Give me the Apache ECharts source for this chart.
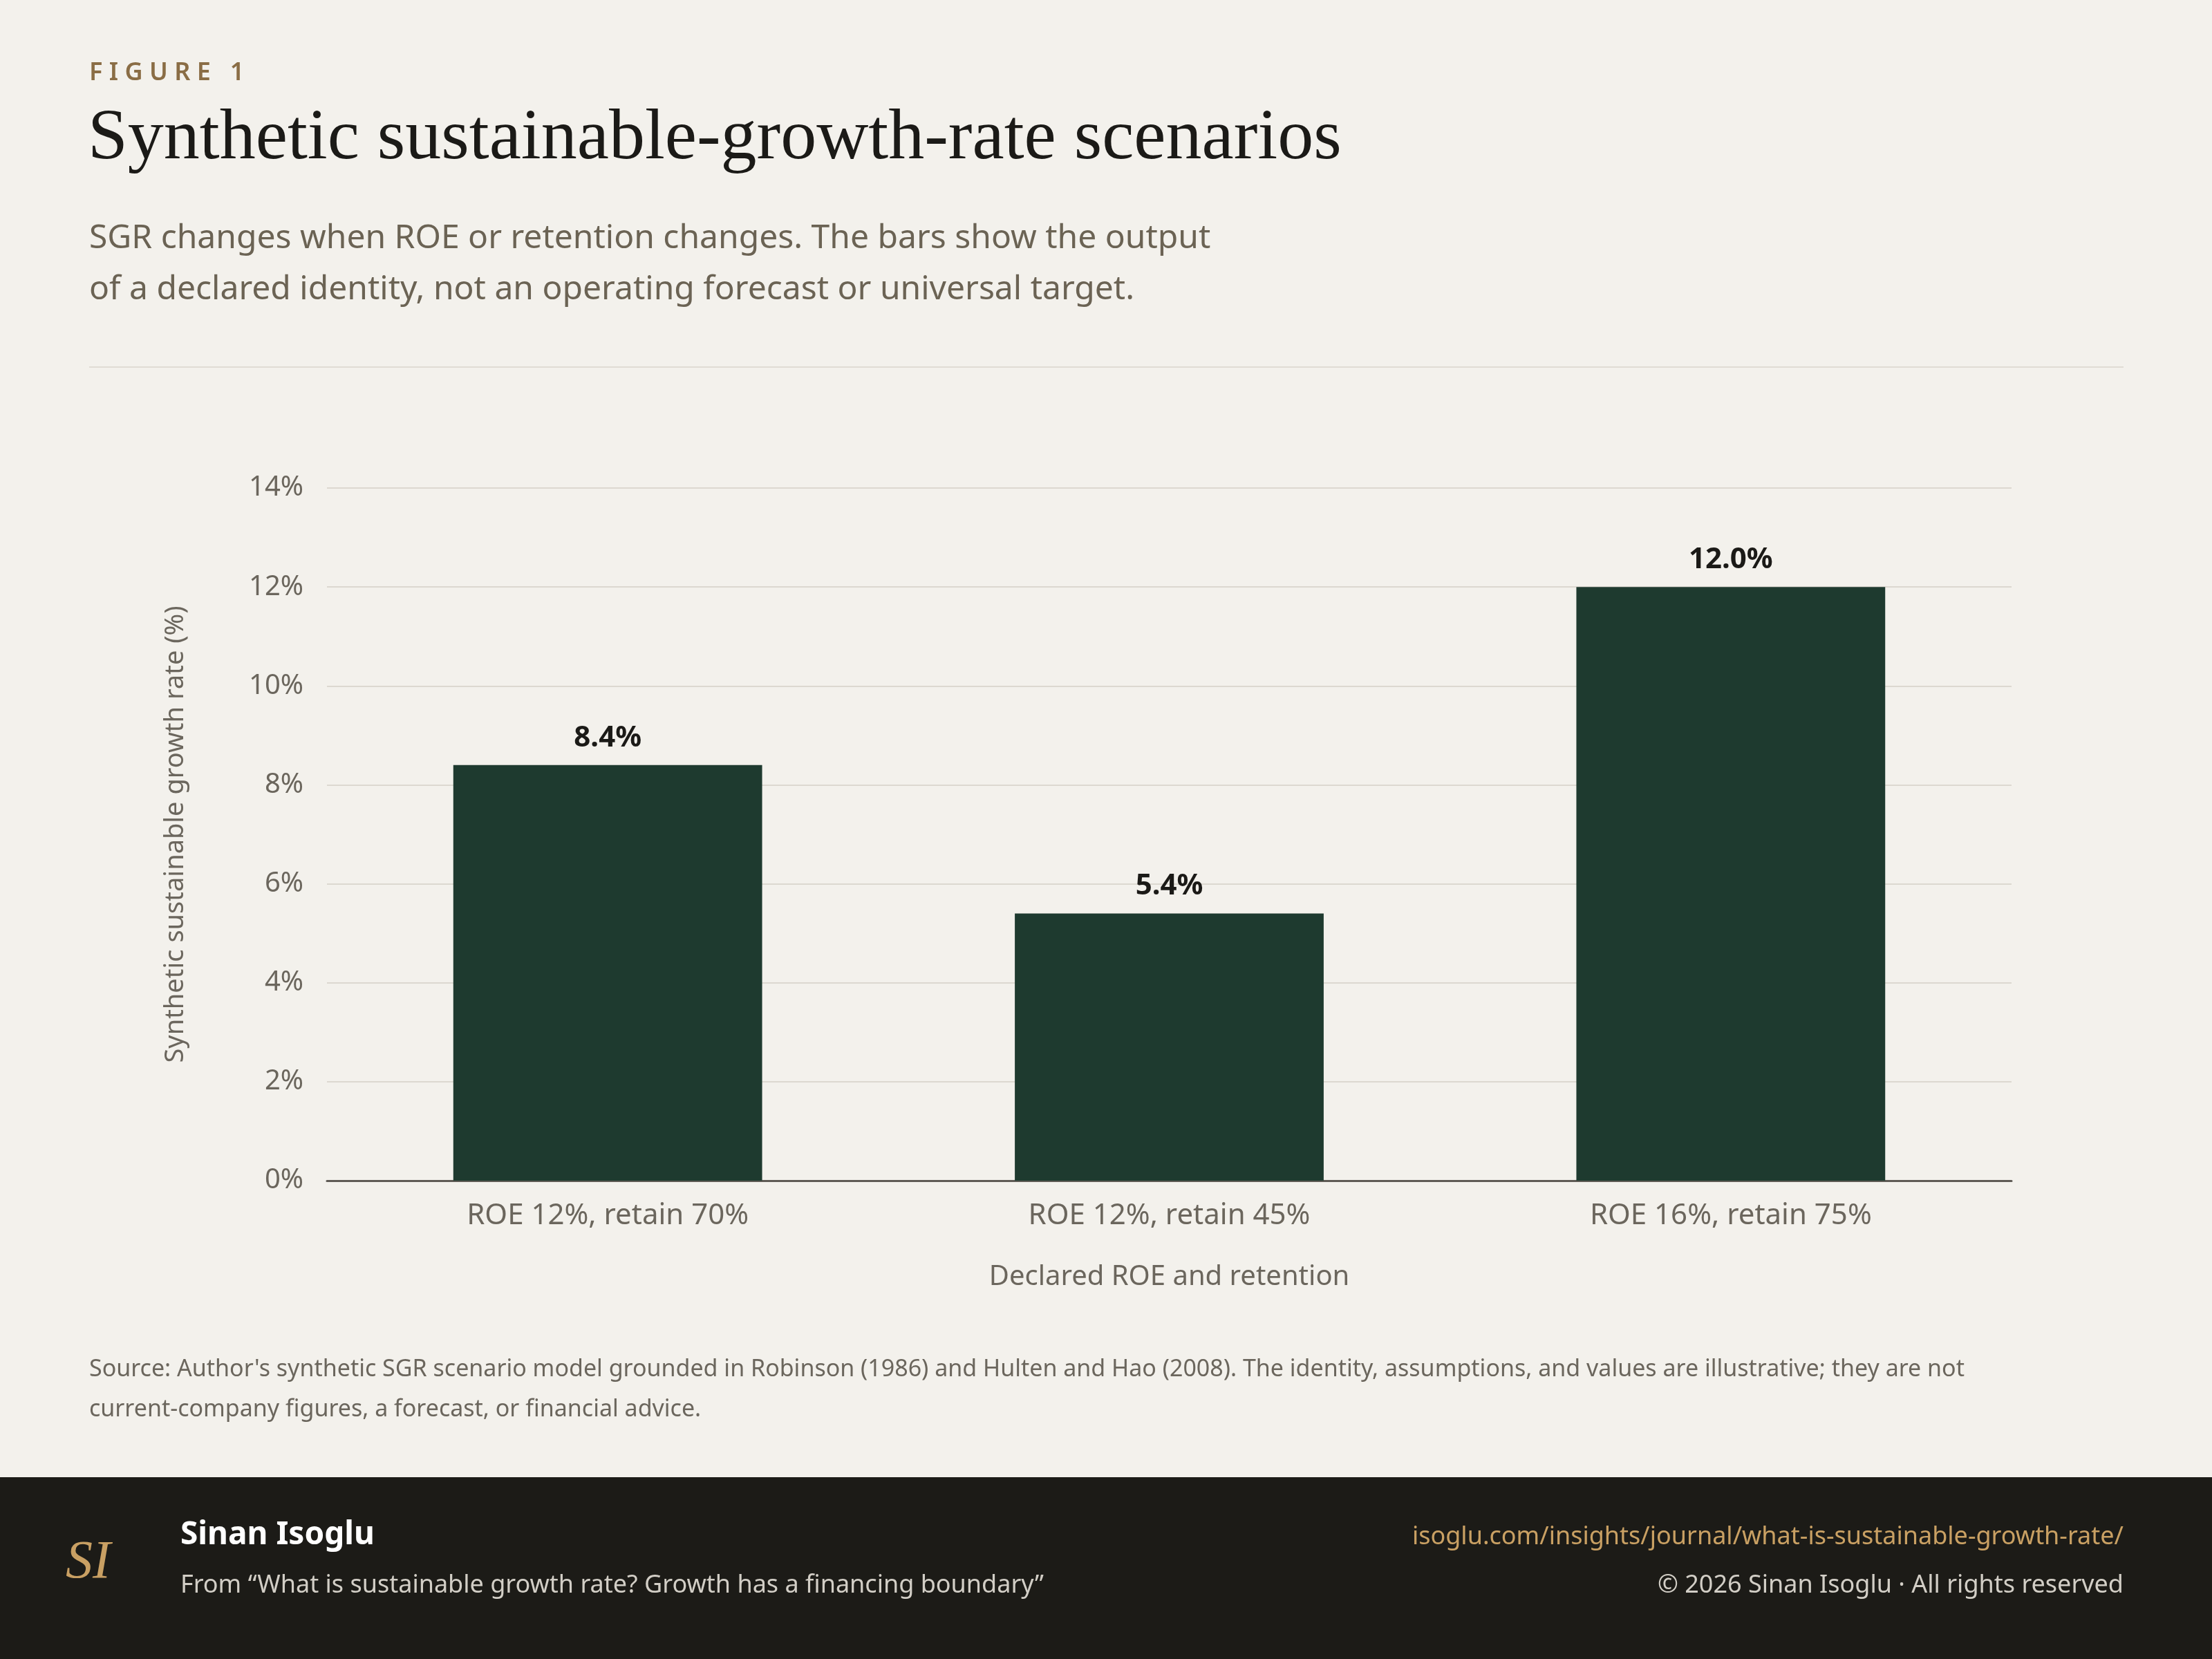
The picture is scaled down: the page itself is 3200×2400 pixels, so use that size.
<!DOCTYPE html>
<html>
<head>
<meta charset="utf-8">
<script src="https://cdn.jsdelivr.net/npm/echarts@6/dist/echarts.min.js"></script>
<style>
  html, body { margin: 0; padding: 0; background: #f3f1ec; }
  #main { width: 3200px; height: 2400px; }
</style>
</head>
<body>
<div id="main"></div>
<script>
var categories = ['ROE 12%, retain 70%', 'ROE 12%, retain 45%', 'ROE 16%, retain 75%'];
var sgrValues = [8.4, 5.4, 12.0];
var yTicks = [0, 2, 4, 6, 8, 10, 12, 14];

var sans = '"Noto Sans", "Open Sans", sans-serif';
var serif = '"Liberation Serif", "DejaVu Serif", serif';

var chart = echarts.init(document.getElementById('main'));
chart.setOption({
  backgroundColor: '#f3f1ec',
  animation: false,
  grid: { left: 473, right: 290, top: 706, bottom: 692 },
  xAxis: {
    type: 'category',
    data: categories,
    name: 'Declared ROE and retention',
    nameLocation: 'middle',
    nameGap: 120,
    nameTextStyle: { color: '#6b665d', fontSize: 40, fontFamily: sans },
    axisLine: { lineStyle: { color: '#5f5b55', width: 3 } },
    axisTick: { show: false },
    axisLabel: { color: '#6b665d', fontSize: 42, fontFamily: sans, margin: 30 }
  },
  yAxis: {
    type: 'value',
    min: yTicks[0],
    max: yTicks[yTicks.length - 1],
    interval: 2,
    name: 'Synthetic sustainable growth rate (%)',
    nameLocation: 'middle',
    nameGap: 200,
    nameTextStyle: { color: '#6b665d', fontSize: 38, fontFamily: sans },
    axisLine: { show: false },
    axisTick: { show: false },
    splitLine: { lineStyle: { color: '#dcd8d0', width: 2 } },
    axisLabel: { color: '#6b665d', fontSize: 40, fontFamily: sans, margin: 34, formatter: '{value}%' }
  },
  series: [{
    type: 'bar',
    data: sgrValues,
    barWidth: '55%',
    itemStyle: { color: '#1e3a2f' },
    label: {
      show: true,
      position: 'top',
      distance: 18,
      color: '#1b1a17',
      fontSize: 42,
      fontWeight: 'bold',
      fontFamily: sans,
      formatter: function (p) { return p.value.toFixed(1) + '%'; }
    }
  }],
  graphic: [
    { type: 'text', left: 129, top: 88, style: { text: 'F I G U R E   1', fill: '#8a6d45', font: '600 36px ' + sans } },
    { type: 'text', left: 127, top: 150, style: { text: 'Synthetic sustainable-growth-rate scenarios', fill: '#1b1a17', font: '104px ' + serif } },
    { type: 'text', left: 129, top: 308, style: { text: 'SGR changes when ROE or retention changes. The bars show the output\nof a declared identity, not an operating forecast or universal target.', fill: '#6b6354', font: '48px ' + sans, lineHeight: 74 } },
    { type: 'rect', shape: { x: 129, y: 530, width: 2943, height: 2 }, style: { fill: '#e0dcd4' } },
    { type: 'text', left: 129, top: 1952, style: { text: "Source: Author's synthetic SGR scenario model grounded in Robinson (1986) and Hulten and Hao (2008). The identity, assumptions, and values are illustrative; they are not\ncurrent-company figures, a forecast, or financial advice.", fill: '#6b665d', font: '34px ' + sans, lineHeight: 58 } },
    { type: 'rect', shape: { x: 0, y: 2137, width: 3200, height: 263 }, style: { fill: '#1c1b17' } },
    { type: 'text', left: 95, top: 2222, style: { text: 'SI', fill: '#c9a063', font: 'italic 78px ' + serif } },
    { type: 'text', left: 261, top: 2198, style: { text: 'Sinan Isoglu', fill: '#ffffff', font: 'bold 46px ' + sans } },
    { type: 'text', left: 261, top: 2276, style: { text: 'From \u201cWhat is sustainable growth rate? Growth has a financing boundary\u201d', fill: '#d2cec6', font: '36px ' + sans } },
    { type: 'text', right: 128, top: 2206, style: { text: 'isoglu.com/insights/journal/what-is-sustainable-growth-rate/', fill: '#c9a063', font: '36px ' + sans } },
    { type: 'text', right: 128, top: 2276, style: { text: '\u00a9 2026 Sinan Isoglu \u00b7 All rights reserved', fill: '#d2cec6', font: '36px ' + sans } }
  ]
});
</script>
</body>
</html>
